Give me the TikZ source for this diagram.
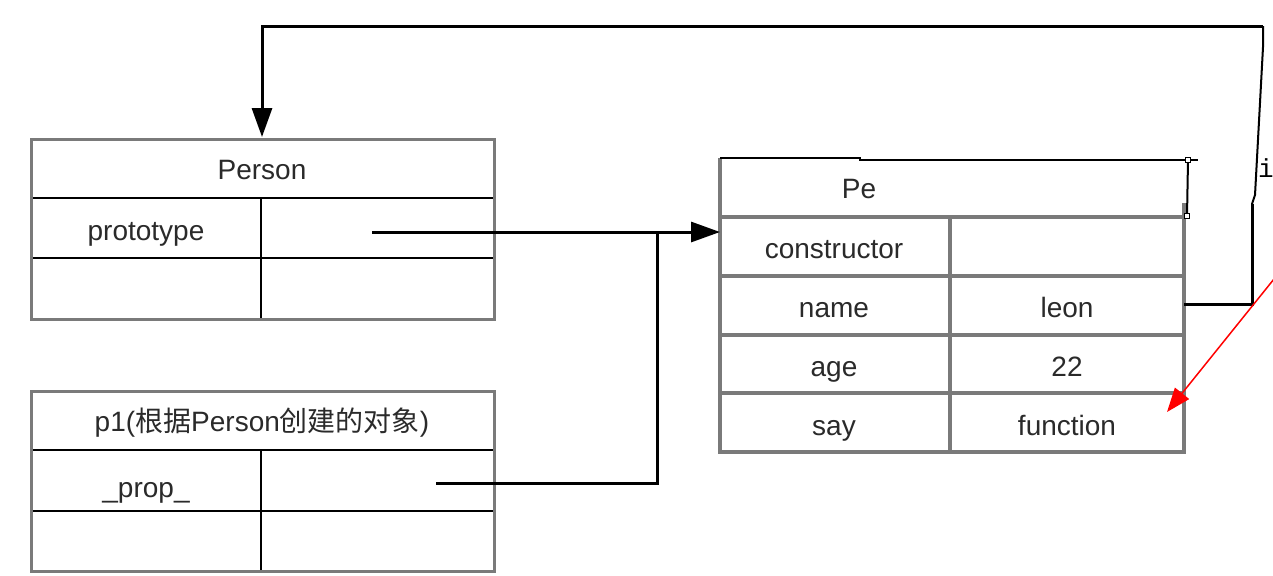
\documentclass[tikz,border=0pt]{standalone}
\usepackage{fontspec}
\setmainfont{Liberation Sans}
\setmonofont{Liberation Mono}
\newfontfamily\cjk{Noto Sans CJK SC}
\usetikzlibrary{arrows.meta}
\definecolor{boxgray}{HTML}{7A7A7A}
\definecolor{txt}{HTML}{2A2A2A}
\tikzset{
  lbl/.style={inner sep=0pt, anchor=base, text=txt, font=\fontsize{14pt}{16pt}\selectfont},
  outer/.style={draw=boxgray, line width=1.5pt},
  inner/.style={draw=black, line width=0.9pt},
  rgrid/.style={draw=boxgray, line width=1.8pt},
  conn/.style={draw=black, line width=1.5pt},
  thinconn/.style={draw=black, line width=1pt},
  blackhead/.style={-{Triangle[length=14.5pt,width=10pt]}},
  redarrow/.style={draw=red, line width=0.75pt, -{Triangle[length=12pt,width=9pt]}},
  handle/.style={draw=black, fill=white, line width=0.4pt, minimum size=2.5pt, inner sep=0pt},
}
\begin{document}
\begin{tikzpicture}[x=0.5pt, y=-0.5pt]
\useasboundingbox (0,0) rectangle (1273,575);
\clip (0,0) rectangle (1273,575);
\fill[white] (0,0) rectangle (1273,575);

% ---------- Person box ----------
\draw[inner] (261,198) -- (261,319);
\draw[inner] (31,198) -- (494,198);
\draw[inner] (31,258) -- (494,258);
\draw[outer] (31,139) rectangle (494,319);
\node[lbl] (person) at (262,179) {Person};
\node[lbl] (proto) at (146,240) {prototype};
\coordinate (protoval) at (372,232);

% ---------- p1 box ----------
\draw[inner] (261,450) -- (261,571);
\draw[inner] (31,450) -- (494,450);
\draw[inner] (31,511) -- (494,511);
\draw[outer] (31,391) rectangle (494,571);
\node[lbl] (p1) at (262,431) {p1({\cjk 根据}Person{\cjk 创建的对象})};
\node[lbl] (prop) at (146,497) {\_prop\_};
\coordinate (propval) at (436,483);

% ---------- prototype object box ----------
\draw[rgrid] (720,158) -- (720,452) -- (1184,452) -- (1184,203);
\draw[rgrid] (720,217) -- (1184,217);
\draw[rgrid] (720,276) -- (1184,276);
\draw[rgrid] (720,335) -- (1184,335);
\draw[rgrid] (720,393) -- (1184,393);
\draw[rgrid] (950,217) -- (950,452);
\draw[thinconn] (720,158) -- (860,158) -- (860,160) -- (1198,160);
\draw[thinconn] (1188,160) -- (1187,216);
\node[handle] (h1) at (1188,160) {};
\node[handle] (h2) at (1187,216) {};
\node[lbl] (pe) at (859,198) {Pe};
\node[lbl] (ctor) at (834,258) {constructor};
\node[lbl] (name) at (834,317) {name};
\node[lbl] (leon) at (1067,317) {leon};
\node[lbl] (age) at (834,376) {age};
\node[lbl] (v22) at (1067,376) {22};
\node[lbl] (say) at (834,435) {say};
\node[lbl] (func) at (1067,435) {function};
\coordinate (ptarget) at (720,232);
\coordinate (nameout) at (1184,304);
\node[inner sep=0pt, text=black, font=\ttfamily\fontsize{13pt}{15pt}\selectfont, anchor=east] (itext) at (1274,168) {i};

% ---------- connectors ----------
\coordinate (j1) at (657,483);
\coordinate (j2) at (657,232);
\draw[conn] (propval) -- (j1) -- (j2);
\draw[conn, blackhead] (protoval) -- (ptarget);

\coordinate (c1) at (1252,304);
\coordinate (c2) at (1252,204);
\coordinate (c3) at (1255,195);
\coordinate (c4) at (1263,47);
\coordinate (c5) at (1263,26);
\coordinate (c6) at (262,26);
\coordinate (ptop) at (262,137);
\draw[conn] (nameout) -- (c1) -- (c2);
\draw[thinconn] (c2) -- (c3) -- (c4) -- (c5);
\draw[conn, blackhead] (c5) -- (c6) -- (ptop);

\coordinate (rstart) at (1278,274);
\coordinate (rend) at (1167,412);
\draw[redarrow] (rstart) -- (rend);
\end{tikzpicture}
\end{document}
